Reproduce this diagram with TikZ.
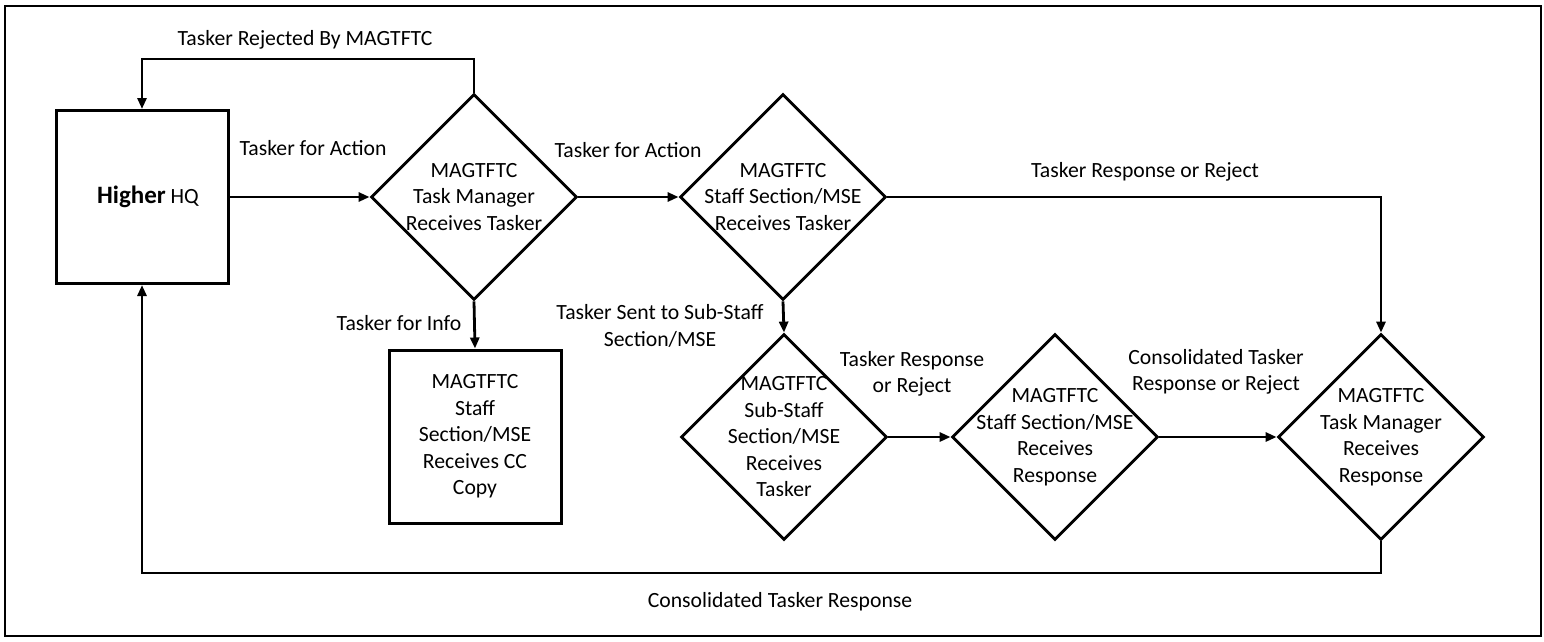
\documentclass[tikz,border=0pt]{standalone}
\usepackage{fontspec}
\setmainfont{Carlito}
\usetikzlibrary{shapes.geometric,arrows.meta}

\begin{document}
\begin{tikzpicture}[x=1pt,y=-1pt,font=\fontsize{21.7}{26.5}\selectfont]
    \tikzstyle{box}=[draw,line width=3pt,shape=rectangle,minimum width=172pt,minimum height=173pt,inner sep=0pt,align=center]
    \tikzstyle{decision}=[draw,line width=2.8pt,shape=diamond,aspect=1,minimum size=206pt,inner sep=-15pt,align=center]
    \tikzstyle{arrow}=[draw,line width=2.8pt,-{Triangle[length=11pt,width=9pt]}]
    \tikzstyle{caption}=[draw=none,inner sep=0pt,align=center]

    \useasboundingbox (0,0) rectangle (1544,641);
    \draw[line width=1.4pt] (5,6) rectangle (1541,636);

    \node[box] (1) at (142,197) {\hspace*{12pt}{\fontsize{25}{30}\selectfont\bfseries Higher} HQ};
    \node[decision] (2) at (474,197) {MAGTFTC\\Task Manager\\Receives Tasker};
    \node[decision] (3) at (783,197) {MAGTFTC\\Staff Section/MSE\\Receives Tasker};
    \node[box] (4) at (475,436.5) {MAGTFTC\\Staff\\Section/MSE\\Receives CC\\Copy};
    \node[decision] (5) at (784,437) {MAGTFTC\\Sub-Staff\\Section/MSE\\Receives\\Tasker};
    \node[decision] (6) at (1055,437) {MAGTFTC\\Staff Section/MSE\\Receives\\Response};
    \node[decision] (7) at (1381,437) {MAGTFTC\\Task Manager\\Receives\\Response};

    \coordinate (r1) at (474,59);
    \coordinate (r2) at (142,59);
    \coordinate (c1) at (1381,573);
    \coordinate (c2) at (142,573);

    \path[arrow] (1) -- (2);
    \path[arrow] (2.north) -- (r1) -- (r2) -- (1.north);
    \path[arrow] (2) -- (3);
    \path[arrow] (2.south) -- (4.north);
    \path[arrow] (3.east) -| (7.north);
    \path[arrow] (3.south) -- (5.north);
    \path[arrow] (5) -- (6);
    \path[arrow] (6) -- (7);
    \path[arrow] (7.south) -- (c1) -- (c2) -- (1.south);

    \node[caption] (l1) at (305,40) {Tasker Rejected By MAGTFTC};
    \node[caption] (l2) at (313,148) {Tasker for Action};
    \node[caption] (l3) at (628,150) {Tasker for Action};
    \node[caption] (l4) at (1145,172) {Tasker Response or Reject};
    \node[caption] (l5) at (399,323) {Tasker for Info};
    \node[caption] (l6) at (660,326) {Tasker Sent to Sub-Staff\\Section/MSE};
    \node[caption] (l7) at (912,374) {Tasker Response\\or Reject};
    \node[caption] (l8) at (1216,372) {Consolidated Tasker\\Response or Reject};
    \node[caption] (l9) at (780,602) {Consolidated Tasker Response};
\end{tikzpicture}
\end{document}
